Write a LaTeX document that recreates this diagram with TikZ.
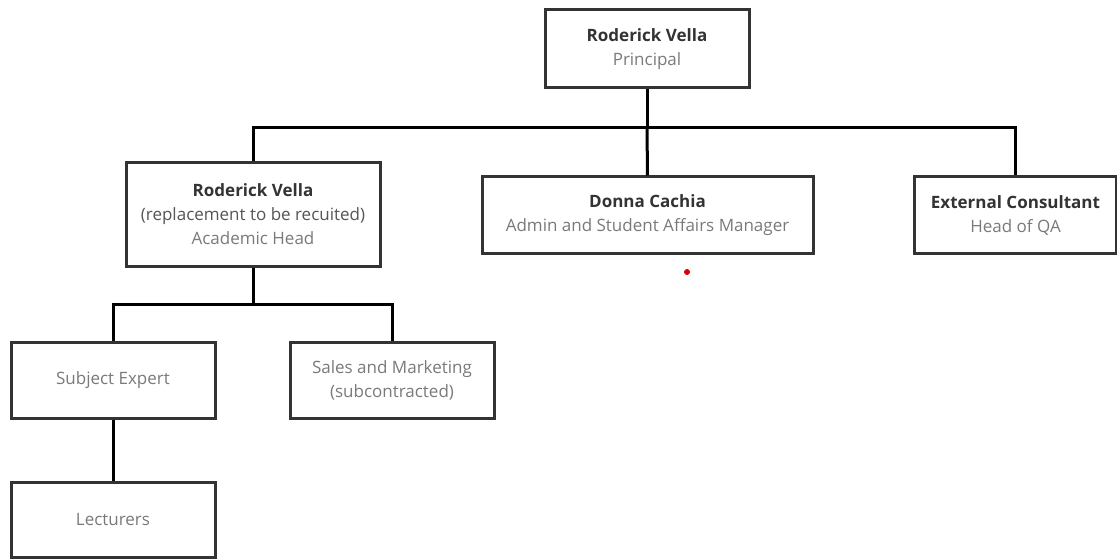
\documentclass[tikz,border=0pt]{standalone}
\usepackage{fontspec}
\setmainfont{Open Sans}
\usetikzlibrary{positioning}
\definecolor{boxline}{HTML}{333333}
\definecolor{nametext}{HTML}{333333}
\definecolor{roletext}{HTML}{7A7A7A}
\definecolor{notetext}{HTML}{555555}

\begin{document}
\begin{tikzpicture}[x=1pt, y=-1pt, font=\fontsize{17}{24}\selectfont,
  post/.style={draw=boxline, line width=3pt, fill=white, align=center, inner sep=2pt,
    minimum width=204pt, minimum height=76pt},
  link/.style={line width=3pt, black}]
  \useasboundingbox (0,0) rectangle (1117,559);

  % top level
  \node[post, minimum height=78pt] (principal) at (647, 49)
    {{\bfseries\color{nametext} Roderick Vella}\\{\color{roletext} Principal}};

  % second level
  \node[post, minimum width=254pt, minimum height=103pt] (academic) at (253, 214.5)
    {{\bfseries\color{nametext} Roderick Vella}\\{\color{notetext} (replacement to be recuited)}\\{\color{roletext} Academic Head}};
  \node[post, minimum width=331pt] (donna) at (647.5, 215)
    {{\bfseries\color{nametext} Donna Cachia}\\{\color{roletext} Admin and Student Affairs Manager}};
  \node[post, minimum width=202pt] (external) at (1015.5, 215)
    {{\bfseries\color{nametext} External Consultant}\\{\color{roletext} Head of QA}};

  % third level
  \node[post] (subject) at (113, 380) {\color{roletext} Subject Expert};
  \node[post] (sales) at (392, 380)
    {{\color{roletext} Sales and Marketing}\\{\color{roletext} (subcontracted)}};
  \node[post, minimum height=75pt] (lecturers) at (113, 519.5) {\color{roletext} Lecturers};

  % connectors
  \draw[link] (principal.south) -- ++(0,38) coordinate (bus1);
  \draw[link] (academic.north) |- (bus1) -| (external.north);
  \draw[link] (bus1) -- (donna.north);
  \draw[link] (academic.south) -- ++(0,37) coordinate (bus2);
  \draw[link] (subject.north) |- (bus2) -| (sales.north);
  \draw[link] (subject.south) -- (lecturers.north);

  \fill[red!85!black] (687, 272) circle (3);
\end{tikzpicture}
\end{document}
